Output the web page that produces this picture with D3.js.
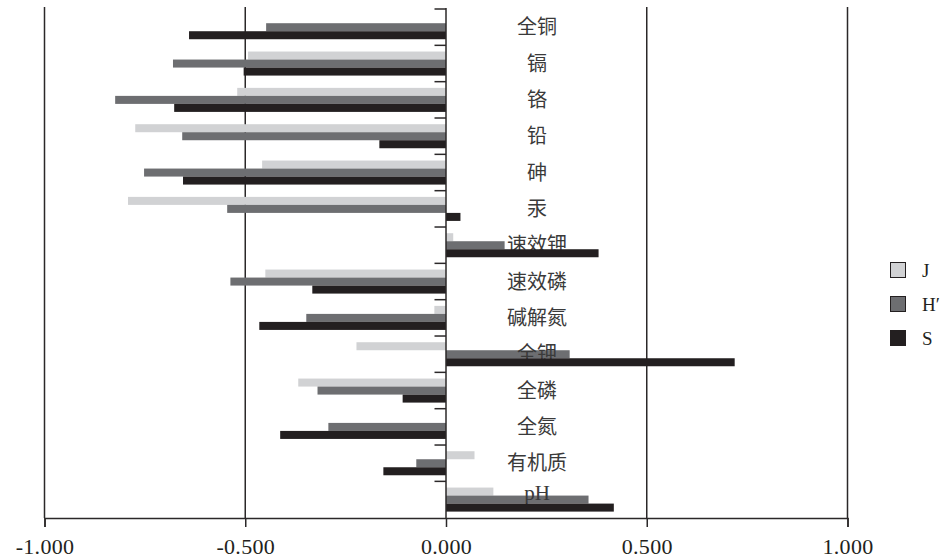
<!DOCTYPE html>
<html><head><meta charset="utf-8">
<script src="https://cdn.jsdelivr.net/npm/d3@7/dist/d3.min.js"></script>
<style>body{margin:0;background:#fff}svg{display:block}</style>
</head><body>
<svg id="c" width="942" height="558"></svg>
<script>
const categories = ["全铜","镉","铬","铅","砷","汞","速效钾","速效磷","碱解氮","全钾","全磷","全氮","有机质","pH"];
const seriesNames = ["J","H′","S"];
const valuesJ = [0, -0.493, -0.520, -0.774, -0.458, -0.792, 0.018, -0.450, -0.029, -0.223, -0.368, 0, 0.071, 0.118];
const valuesH = [-0.448, -0.680, -0.824, -0.657, -0.752, -0.545, 0.146, -0.537, -0.348, 0.308, -0.320, -0.293, -0.074, 0.355];
const valuesS = [-0.640, -0.504, -0.677, -0.166, -0.655, 0.036, 0.380, -0.333, -0.465, 0.719, -0.108, -0.413, -0.156, 0.418];
const xTicks = [-1, -0.5, 0, 0.5, 1];
const colors = ["#d1d2d4", "#6d6e71", "#231f20"];

const svg = d3.select("#c");
const x = d3.scaleLinear().domain([-1, 1]).range([44.5, 847.5]);
const y = d3.scaleBand().domain(categories).range([9, 517.7]).paddingInner(0).paddingOuter(0);
const bw = y.bandwidth();
const ys = d3.scaleBand().domain(seriesNames).range([6.2, bw - 6.1]);
const series = [valuesJ, valuesH, valuesS];
const lineColor = "#2b2829";
const plotTop = 7, plotBottom = 518;

// grid lines
svg.append("g").selectAll("line").data(xTicks.filter(d => d !== 0)).join("line")
  .attr("x1", d => x(d)).attr("x2", d => x(d)).attr("y1", plotTop).attr("y2", plotBottom)
  .attr("stroke", lineColor).attr("stroke-width", 1.5);

function drawBars(si) {
  svg.append("g").selectAll("rect").data(series[si]).join("rect")
    .attr("x", d => Math.min(x(0), x(d)))
    .attr("width", d => Math.abs(x(d) - x(0)))
    .attr("y", (d, i) => y(categories[i]) + ys(seriesNames[si]))
    .attr("height", ys.bandwidth())
    .attr("fill", colors[si]);
}
drawBars(0);
drawBars(1);

// category labels (Latin text sits higher, on the CJK baseline of the original font)
const isLatin = s => /^[\x00-\x7f]+$/.test(s);
svg.append("g").selectAll("text").data(categories).join("text")
  .attr("x", 537).attr("y", d => y(d) + bw / 2 + (isLatin(d) ? 0 : 7))
  .attr("text-anchor", "middle")
  .attr("font-family", d => isLatin(d) ? "'Liberation Serif','Times New Roman',serif" : "'Noto Sans CJK SC',sans-serif")
  .attr("font-size", d => isLatin(d) ? 21 : 20).attr("fill", "#3a3a3a")
  .text(d => d);

drawBars(2);

// zero axis with left ticks
svg.append("line").attr("x1", x(0)).attr("x2", x(0)).attr("y1", plotTop + 1).attr("y2", plotBottom)
  .attr("stroke", lineColor).attr("stroke-width", 1.5);
svg.append("g").selectAll("line").data(categories).join("line")
  .attr("x1", x(0) - 11.5).attr("x2", x(0)).attr("y1", d => y(d)).attr("y2", d => y(d))
  .attr("stroke", lineColor).attr("stroke-width", 1.5);

// bottom axis
const ax = svg.append("g").attr("transform", `translate(0,${plotBottom})`)
  .call(d3.axisBottom(x).tickValues(xTicks).tickFormat(d3.format(".3f")).tickSize(9).tickPadding(11));
ax.select(".domain").attr("stroke", lineColor).attr("stroke-width", 1.5);
ax.selectAll(".tick line").attr("stroke", lineColor).attr("stroke-width", 1.5);
ax.selectAll(".tick text").attr("font-family", "'Liberation Serif','Times New Roman',serif").attr("font-size", 22)
  .attr("fill", "#231f20").attr("letter-spacing", 0.3)
  .text(d => d < 0 ? "-" + d3.format(".3f")(-d) : d3.format(".3f")(d));

// legend
const lg = svg.append("g").attr("transform", "translate(890,262)");
seriesNames.forEach((n, i) => {
  lg.append("rect").attr("x", 0.5).attr("y", i * 34 + 0.5).attr("width", 15).attr("height", 15)
    .attr("fill", colors[i]).attr("stroke", "#231f20").attr("stroke-width", 1);
  lg.append("text").attr("x", 32).attr("y", i * 34 + 15).attr("font-family", "'Liberation Serif','Times New Roman',serif")
    .attr("font-size", 19).attr("fill", "#231f20").text(n);
});
</script>
</body></html>
